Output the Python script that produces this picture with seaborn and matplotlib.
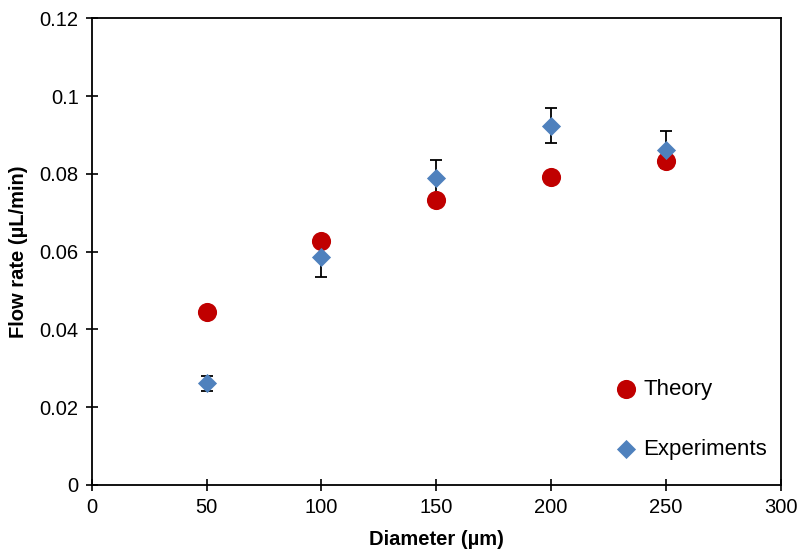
import pandas as pd
import matplotlib.pyplot as plt
import seaborn as sns

diameter = [50, 100, 150, 200, 250]
theory = [0.0445, 0.0628, 0.0733, 0.0793, 0.0833]
experiments = [0.0261, 0.0587, 0.0788, 0.0924, 0.0862]
exp_err = [0.0019, 0.0052, 0.0047, 0.0045, 0.0048]

df_theory = pd.DataFrame({"diameter": diameter, "flow": theory})
df_exp = pd.DataFrame({"diameter": diameter, "flow": experiments})

sns.set_style("white")
plt.rcParams["font.family"] = ["Liberation Sans", "DejaVu Sans"]
plt.rcParams["text.color"] = "black"

fig = plt.figure(figsize=(7.99, 5.53), dpi=100)
ax = fig.add_axes([0.115, 0.123, 0.862, 0.844])

# error bars behind the markers
ax.errorbar(diameter, experiments, yerr=exp_err, fmt="none", ecolor="black",
            elinewidth=1.3, capsize=4.5, capthick=1.3, zorder=1)

sns.scatterplot(ax=ax, data=df_theory, x="diameter", y="flow", color="#C00000",
                marker="o", s=190, linewidth=0, zorder=2, label="Theory")
sns.scatterplot(ax=ax, data=df_exp, x="diameter", y="flow", color="#4F81BD",
                marker="D", s=95, linewidth=0, zorder=3, label="Experiments")

ax.set_xlim(0, 300)
ax.set_ylim(0, 0.12)
ax.set_xticks([0, 50, 100, 150, 200, 250, 300])
ax.set_yticks([0, 0.02, 0.04, 0.06, 0.08, 0.1, 0.12])
ax.set_yticklabels(["0", "0.02", "0.04", "0.06", "0.08", "0.1", "0.12"])
ax.tick_params(bottom=True, left=True, direction="inout", length=9, width=1.2,
               labelsize=14.5, colors="black", pad=5)

for sp in ax.spines.values():
    sp.set_color("black")
    sp.set_linewidth(1.3)

ax.set_xlabel("Diameter (µm)", fontsize=14.5, fontweight="bold", labelpad=9, color="black")
ax.set_ylabel("Flow rate (µL/min)", fontsize=14.5, fontweight="bold", labelpad=8, color="black")

ax.legend(loc="lower right", bbox_to_anchor=(1.003, 0.02), frameon=False,
          fontsize=16, labelspacing=1.75, handletextpad=-0.2, borderaxespad=0.3)

fig.savefig("out.png", dpi=100)
